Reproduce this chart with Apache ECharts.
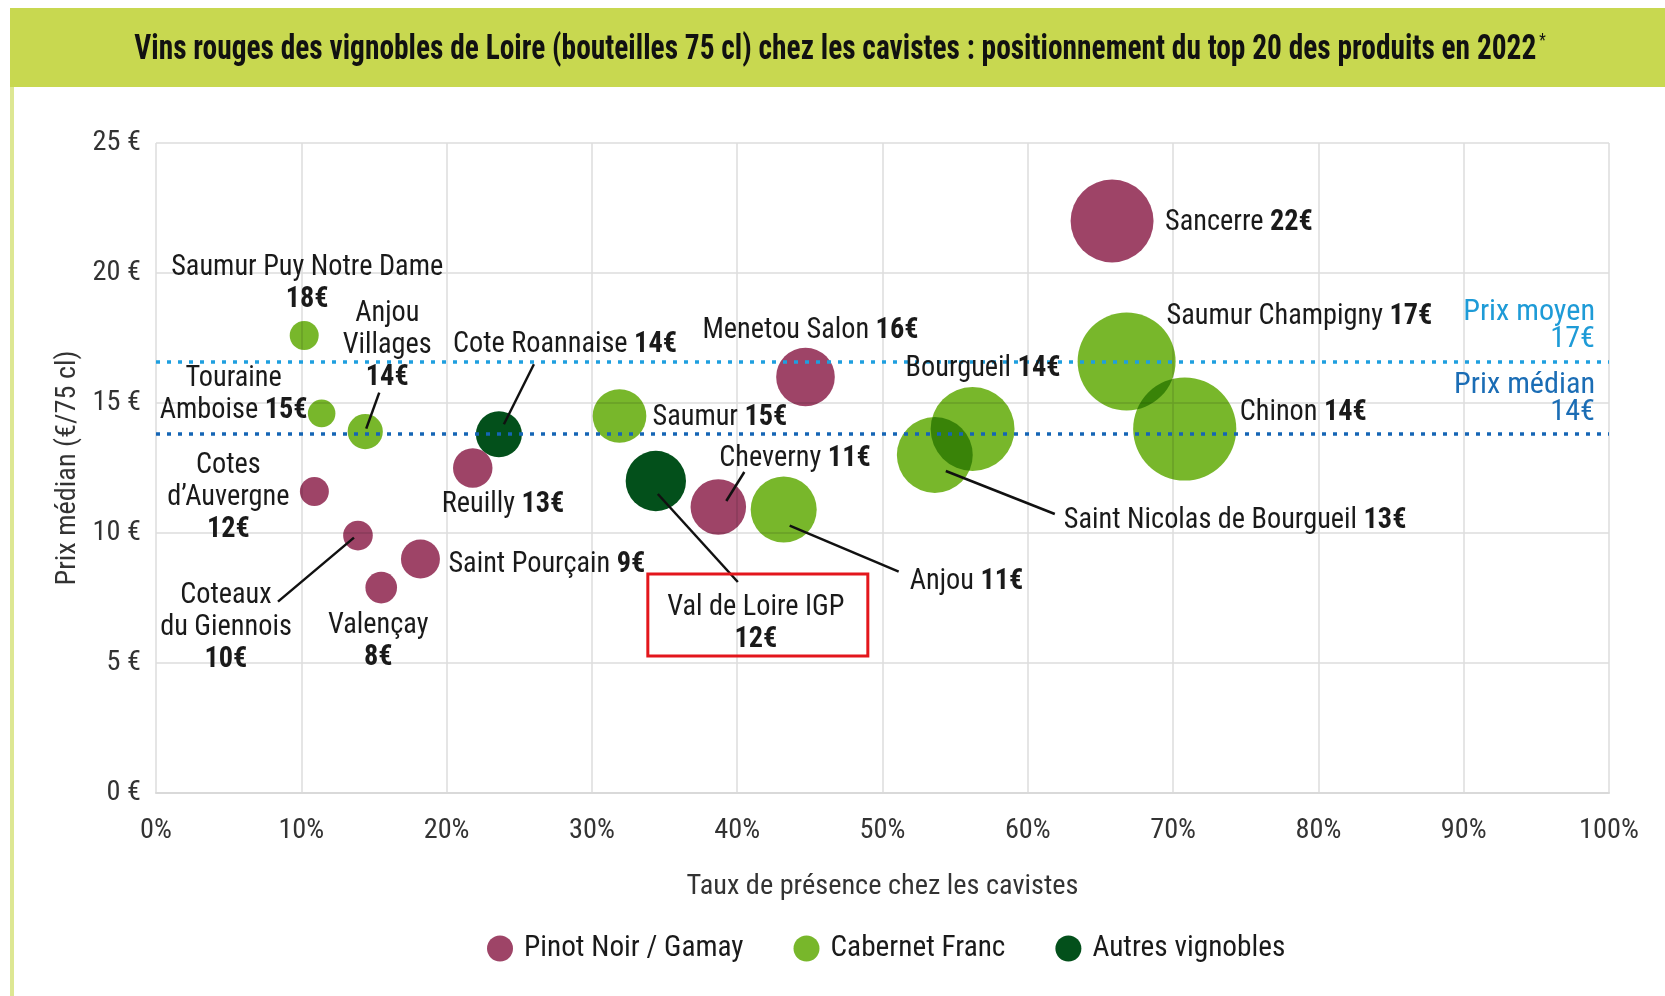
<!DOCTYPE html>
<html>
<head>
<meta charset="utf-8">
<script src="https://cdn.jsdelivr.net/npm/echarts@6/dist/echarts.min.js"></script>
<style>
  html, body { margin: 0; padding: 0; background: #fff; }
  #chart { width: 1665px; height: 996px; }
</style>
</head>
<body>
<div id="chart"></div>
<script>
// ---- Data -------------------------------------------------------------
const vins = ['Sancerre', 'Saumur Champigny', 'Chinon', 'Bourgueil', 'Saint Nicolas de Bourgueil',
  'Menetou Salon', 'Anjou', 'Cheverny', 'Val de Loire IGP', 'Saumur', 'Cote Roannaise', 'Reuilly',
  'Saint Pourçain', 'Valençay', 'Coteaux du Giennois', 'Cotes d’Auvergne', 'Anjou Villages',
  'Touraine Amboise', 'Saumur Puy Notre Dame'];
const cepages = ['Pinot Noir / Gamay', 'Cabernet Franc', 'Cabernet Franc', 'Cabernet Franc', 'Cabernet Franc',
  'Pinot Noir / Gamay', 'Cabernet Franc', 'Pinot Noir / Gamay', 'Autres vignobles', 'Cabernet Franc',
  'Autres vignobles', 'Pinot Noir / Gamay', 'Pinot Noir / Gamay', 'Pinot Noir / Gamay', 'Pinot Noir / Gamay',
  'Pinot Noir / Gamay', 'Cabernet Franc', 'Cabernet Franc', 'Cabernet Franc'];
// taux de présence chez les cavistes (%)
const presence = [65.8, 66.8, 70.8, 56.2, 53.6, 44.7, 43.2, 38.7, 34.4, 31.9, 23.6, 21.8, 18.2, 15.5, 13.9, 10.9, 14.4, 11.4, 10.2];
// prix médian (€ / 75 cl)
const prixMedian = [22.0, 16.6, 14.0, 14.0, 13.0, 16.0, 10.9, 11.0, 12.0, 14.5, 13.8, 12.5, 9.0, 7.9, 9.9, 11.6, 13.9, 14.6, 17.6];
// poids relatif de chaque produit (aire de la bulle)
const poids = [172, 240, 266, 176, 144, 86, 109, 77, 91, 72, 53, 39, 38, 25, 22, 21, 31, 19, 21];

const groupes = ['Pinot Noir / Gamay', 'Cabernet Franc', 'Autres vignobles'];
const prixMoyenGlobal = 16.6;
const prixMedianGlobal = 13.8;

const xTicks = { min: 0, max: 100, interval: 10 };
const yTicks = { min: 0, max: 25, interval: 5 };

const TITRE = 'Vins rouges des vignobles de Loire (bouteilles 75 cl) chez les cavistes : positionnement du top 20 des produits en 2022';

// ---- Fonts: pick the narrowest installed sans face ----------------------
const meas = document.createElement('canvas').getContext('2d');
function largeur(font, txt) {
  meas.font = '40px monospace';
  meas.font = font;
  return meas.measureText(txt).width;
}
const sonde = 'Saumur Puy Notre Dame 0123456789 abcdefghijklmnopqrstuvwxyz';
const wMono = largeur('40px monospace', sonde);
const candidats = [
  { family: "'Roboto Condensed'", style: 'normal' },
  { family: "'Liberation Sans Narrow'", style: 'normal' },
  { family: "'Open Sans'", style: 'condensed' },
  { family: "Roboto", style: 'condensed' },
  { family: "'DejaVu Sans Condensed'", style: 'normal' }
];
let choix = candidats[candidats.length - 1];
for (const c of candidats) {
  const wFam = largeur('40px ' + c.family + ', monospace', sonde);
  if (Math.abs(wFam - wMono) < 0.5) continue;            // family not installed
  if (c.style === 'condensed') {
    const wC = largeur('condensed 40px ' + c.family + ', monospace', sonde);
    if (wC < wFam - 1) { choix = c; break; }
  } else { choix = c; break; }
}
const FONT = choix.family + ", 'DejaVu Sans Condensed', sans-serif";
const FSTYLE = choix.style;
const pre = FSTYLE === 'condensed' ? 'condensed ' : '';
// horizontal squeeze so that text runs keep their printed widths
const SX = Math.min(1.1, 272 / largeur(pre + '29px ' + FONT, 'Saumur Puy Notre Dame'));
const SXT = 1402 / largeur(pre + 'bold 35px ' + FONT, TITRE);
const fs = base => Math.round(base * SX * 10) / 10;

// ---- Styles ------------------------------------------------------------
const couleurs = {
  'Pinot Noir / Gamay': '#9e4467',
  'Cabernet Franc': '#78b72b',
  'Autres vignobles': '#03501b'
};
const TXT = '#1a1a1a';

// label placement around each bubble (pixel offsets from its centre)
const etiquettes = {
  'Sancerre':                   { dx: 53, dy: 2, align: 'left' },
  'Saumur Champigny':           { dx: 40, dy: -45, align: 'left' },
  'Chinon':                     { dx: 55, dy: -16, align: 'left' },
  'Bourgueil':                  { dx: -67, dy: -60, align: 'left' },
  'Saint Nicolas de Bourgueil': { dx: 129, dy: 66, align: 'left', lead: [11, 16, 120, 59] },
  'Menetou Salon':              { dx: -103, dy: -46, align: 'left' },
  'Anjou':                      { dx: 126, dy: 72, align: 'left', lead: [6, 16, 115, 62] },
  'Cheverny':                   { dx: 1, dy: -48, align: 'left', lead: [26, -35, 8, -6] },
  'Val de Loire IGP':           { dx: 100, dy: 143, align: 'center', below: true, box: [-8, 93, 220, 82], lead: [2, 13, 82, 101] },
  'Saumur':                     { dx: 33, dy: 2, align: 'left' },
  'Cote Roannaise':             { dx: -46, dy: -89, align: 'left', lead: [35, -70, 5, -10] },
  'Reuilly':                    { dx: -31, dy: 37, align: 'left' },
  'Saint Pourçain':             { dx: 28, dy: 6, align: 'left' },
  'Valençay':                   { dx: -3, dy: 54, align: 'center', below: true },
  'Coteaux du Giennois':        { dx: -132, dy: 92, align: 'center', split: true, below: true, lead: [-80, 66, -4, 2] },
  'Cotes d’Auvergne':           { dx: -86, dy: 6, align: 'center', split: true, below: true },
  'Anjou Villages':             { dx: 22, dy: -86, align: 'center', split: true, below: true, lead: [14, -39, 1, -3] },
  'Touraine Amboise':           { dx: -88, dy: -19, align: 'center', split: true },
  'Saumur Puy Notre Dame':      { dx: 3, dy: -52, align: 'center', below: true }
};

// ---- Chart -------------------------------------------------------------
const chart = echarts.init(document.getElementById('chart'), null, { renderer: 'canvas' });

const bubbleSeries = groupes.map(g => ({
  name: g,
  type: 'scatter',
  z: 3,
  blendMode: 'multiply',
  silent: true,
  itemStyle: { color: couleurs[g], opacity: 1 },
  symbolSize: v => 2 * Math.sqrt(v[2] * 10),
  data: vins.map((n, i) => ({ name: n, value: [presence[i], prixMedian[i], poids[i]] }))
            .filter((d, i) => cepages[i] === g)
}));

const refLabel = (titre, couleur) => ({
  show: true, position: 'insideEndTop', distance: [14, 8],
  formatter: p => titre + '\n' + Math.round(p.value) + '€',
  color: couleur, fontFamily: FONT, fontStyle: FSTYLE, fontSize: fs(31), lineHeight: 27, align: 'right'
});

const refSeries = {
  name: 'ref',
  type: 'scatter',
  z: 1,
  silent: true,
  data: [],
  markLine: {
    silent: true,
    symbol: 'none',
    animation: false,
    data: [
      { yAxis: prixMoyenGlobal, lineStyle: { color: '#1e9fdf', width: 3.5, type: [4, 7] }, label: refLabel('Prix moyen', '#1e9bd7') },
      { yAxis: prixMedianGlobal, lineStyle: { color: '#1565b5', width: 3.5, type: [4, 7] }, label: refLabel('Prix médian', '#1b6db5') }
    ]
  }
};

const axisText = { color: '#333', fontSize: fs(29), fontFamily: FONT, fontStyle: FSTYLE };

chart.setOption({
  animation: false,
  backgroundColor: '#ffffff',
  textStyle: { fontFamily: FONT },
  grid: { left: 156, right: 56, top: 143, bottom: 203, containLabel: false },
  xAxis: {
    type: 'value',
    min: xTicks.min, max: xTicks.max, interval: xTicks.interval,
    name: 'Taux de présence chez les cavistes',
    nameLocation: 'middle', nameGap: 80,
    nameTextStyle: axisText,
    axisLine: { show: true, lineStyle: { color: '#d9d9d9', width: 2 } },
    axisTick: { show: false },
    axisLabel: Object.assign({ formatter: '{value}%', margin: 24 }, axisText),
    splitLine: { show: true, lineStyle: { color: '#dcdcdc', width: 1.5 } }
  },
  yAxis: {
    type: 'value',
    min: yTicks.min, max: yTicks.max, interval: yTicks.interval,
    name: 'Prix médian (€/75 cl)',
    nameLocation: 'middle', nameGap: 71, nameRotate: 90,
    nameTextStyle: axisText,
    axisLine: { show: false },
    axisTick: { show: false },
    axisLabel: Object.assign({ formatter: '{value} €', margin: 15 }, axisText),
    splitLine: { show: true, lineStyle: { color: '#dcdcdc', width: 1.5 } }
  },
  legend: {
    data: groupes.map(g => ({ name: g, icon: 'circle' })),
    left: 487, top: 934,
    itemWidth: 26, itemHeight: 26, itemGap: 50,
    padding: 0,
    textStyle: { color: TXT, fontSize: fs(30), fontFamily: FONT, fontStyle: FSTYLE, padding: [0, 0, 0, 6] },
    selectedMode: false
  },
  series: [refSeries, ...bubbleSeries]
});

// ---- Title band and annotations ---------------------------------------
const elements = [
  { type: 'rect', z: 0, shape: { x: 10, y: 8, width: 1655, height: 79 }, style: { fill: '#c8d850' } },
  { type: 'rect', z: 0, shape: { x: 10, y: 87, width: 4, height: 909 }, style: { fill: '#dde793' } },
  {
    type: 'text', z: 10, x: 840, y: 50, scaleX: SXT,
    style: {
      text: '{t|' + TITRE + '} {s|*}',
      align: 'center', verticalAlign: 'middle',
      rich: {
        t: { fontFamily: FONT, fontStyle: FSTYLE, fontSize: 35, fontWeight: 'bold', fill: '#111' },
        s: { fontFamily: FONT, fontStyle: FSTYLE, fontSize: 18, fill: '#111', verticalAlign: 'top', padding: [0, 0, 16, 0] }
      }
    }
  }
];

vins.forEach((nom, i) => {
  const cfg = etiquettes[nom];
  if (!cfg) return;
  const [px, py] = chart.convertToPixel({ gridIndex: 0 }, [presence[i], prixMedian[i]]);
  const prix = Math.round(prixMedian[i]) + '€';
  const nomTxt = cfg.split ? nom.replace(' ', '\n') : nom;
  const lines = nomTxt.split('\n').map(l => '{n|' + l + '}');
  if (cfg.below) {
    lines.push('{b|' + prix + '}');
  } else {
    lines[lines.length - 1] = lines[lines.length - 1] + '{n| }{b|' + prix + '}';
  }
  if (cfg.lead) {
    elements.push({
      type: 'line', z: 8, silent: true,
      shape: { x1: px + cfg.lead[0], y1: py + cfg.lead[1], x2: px + cfg.lead[2], y2: py + cfg.lead[3] },
      style: { stroke: '#111', lineWidth: 2.5 }
    });
  }
  if (cfg.box) {
    elements.push({
      type: 'rect', z: 8, silent: true,
      shape: { x: px + cfg.box[0], y: py + cfg.box[1], width: cfg.box[2], height: cfg.box[3] },
      style: { fill: 'none', stroke: '#e3161c', lineWidth: 3 }
    });
  }
  elements.push({
    type: 'text', z: 9, silent: true,
    x: px + cfg.dx, y: py + cfg.dy, scaleX: SX,
    style: {
      text: lines.join('\n'),
      align: cfg.align, verticalAlign: 'middle',
      rich: {
        n: { fontFamily: FONT, fontStyle: FSTYLE, fontSize: 29, lineHeight: 32, fill: TXT, align: cfg.align },
        b: { fontFamily: FONT, fontStyle: FSTYLE, fontSize: 29, lineHeight: 32, fontWeight: 'bold', fill: TXT, align: cfg.align }
      }
    }
  });
});

chart.setOption({ graphic: { elements: elements } });
</script>
</body>
</html>
